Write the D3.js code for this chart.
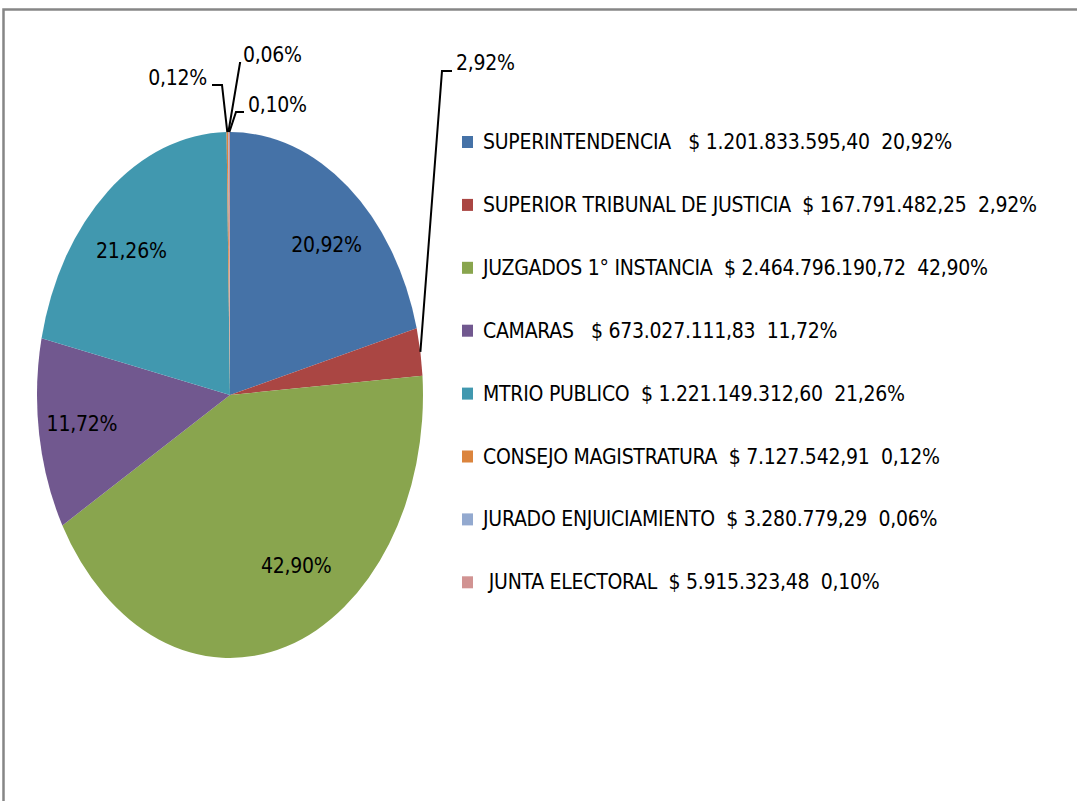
<html>
  <head>
    <script src="https://cdnjs.cloudflare.com/ajax/libs/d3/7.8.5/d3.min.js"></script>
    <style>
      body { margin: 0; background: #fff; }
      svg { display: block; }
      text {
        font-family: "Liberation Sans Narrow", "Arial Narrow", "DejaVu Sans Condensed", sans-serif;
        font-size: 21px;
        letter-spacing: -0.25px;
        fill: #000;
        white-space: pre;
      }
    </style>
  </head>
  <body>
    <svg width="1077" height="801"></svg>
    <script>
      // names as they appear in the legend (spacing kept)
      const categories = [
        "SUPERINTENDENCIA   ",
        "SUPERIOR TRIBUNAL DE JUSTICIA  ",
        "JUZGADOS 1° INSTANCIA  ",
        "CAMARAS   ",
        "MTRIO PUBLICO  ",
        "CONSEJO MAGISTRATURA  ",
        "JURADO ENJUICIAMIENTO  ",
        " JUNTA ELECTORAL  "
      ];
      const amounts = [
        1201833595.40, 167791482.25, 2464796190.72, 673027111.83,
        1221149312.60, 7127542.91, 3280779.29, 5915323.48
      ];
      const colors = [
        "#4572A7", "#AA4643", "#89A54E", "#71588F",
        "#4198AF", "#DB843D", "#93A9CF", "#D19392"
      ];

      const svg = d3.select("svg");
      const esAR = d3.formatLocale({ decimal: ",", thousands: ".", grouping: [3], currency: ["$ ", ""] });
      const fmtMoney = esAR.format("$,.2f");
      const fmtPct = esAR.format(".2%");

      const total = d3.sum(amounts);
      const data = categories.map((c, i) => ({ name: c, value: amounts[i], color: colors[i], pct: amounts[i] / total }));

      // chart frame
      svg.append("path")
        .attr("d", "M3.5,801 V9.5 H1080")
        .attr("fill", "none")
        .attr("stroke", "#868686")
        .attr("stroke-width", 2.5);

      // pie (drawn as a circle, then stretched vertically like the original)
      const cx = 230, cy = 395, rx = 193, ry = 263;
      const sy = ry / rx;
      const pie = d3.pie().value(d => d.value).sort(null);
      const arcs = pie(data);
      const arc = d3.arc().innerRadius(0).outerRadius(rx);
      const labelArc = d3.arc().innerRadius(rx * 0.75).outerRadius(rx * 0.75);
      const edgeArc = d3.arc().innerRadius(rx).outerRadius(rx);
      const toScreen = p => [cx + p[0], cy + p[1] * sy];

      svg.append("g")
        .attr("transform", `translate(${cx},${cy}) scale(1,${sy})`)
        .selectAll("path")
        .data(arcs)
        .join("path")
        .attr("d", arc)
        .attr("fill", d => d.data.color);

      // inside labels for big slices, nudged like excel's best fit
      const nudge = { 0: [8, 6], 2: [24, -18], 3: [-5, -1], 4: [-7, 9] };
      svg.append("g").selectAll("text")
        .data(arcs.filter(d => d.data.pct >= 0.05))
        .join("text")
        .attr("x", d => toScreen(labelArc.centroid(d))[0] + (nudge[d.index] || [0, 0])[0])
        .attr("y", d => toScreen(labelArc.centroid(d))[1] + (nudge[d.index] || [0, 0])[1])
        .attr("text-anchor", "middle")
        .attr("dominant-baseline", "central")
        .text(d => fmtPct(d.data.pct));

      // outside labels with leader lines (placement as in the original)
      const outside = {
        1: { ex: 442, ey: 71, tx: 456, ty: 63, anchor: "start" },
        5: { ex: 222, ey: 85, tx: 207, ty: 78, anchor: "end" },
        6: { ex: 240, ey: 63, tx: 243, ty: 55, anchor: "start" },
        7: { ex: 236, ey: 112, tx: 248, ty: 105, anchor: "start" }
      };
      const og = svg.append("g");
      arcs.forEach((d, i) => {
        const o = outside[i];
        if (!o) return;
        const p = toScreen(edgeArc.centroid(d));
        const hx = o.anchor === "start" ? o.tx - 4 : o.tx + 5;
        og.append("path")
          .attr("d", `M${p[0]},${p[1]} L${o.ex},${o.ey} L${hx},${o.ey}`)
          .attr("fill", "none")
          .attr("stroke", "#000")
          .attr("stroke-width", 2);
        og.append("text")
          .attr("x", o.tx)
          .attr("y", o.ty)
          .attr("text-anchor", o.anchor)
          .attr("dominant-baseline", "central")
          .text(fmtPct(d.data.pct));
      });

      // legend
      const legend = svg.append("g").attr("transform", "translate(462,142)");
      const rowH = 62.9;
      const item = legend.selectAll("g")
        .data(data)
        .join("g")
        .attr("transform", (d, i) => `translate(0,${i * rowH})`);
      item.append("rect")
        .attr("x", 0).attr("y", -6)
        .attr("width", 11).attr("height", 12)
        .attr("fill", d => d.color);
      item.append("text")
        .attr("x", 21)
        .attr("y", 0)
        .attr("dominant-baseline", "central")
        .text(d => `${d.name}${fmtMoney(d.value)}  ${fmtPct(d.pct)}`);
    </script>
  </body>
</html>
